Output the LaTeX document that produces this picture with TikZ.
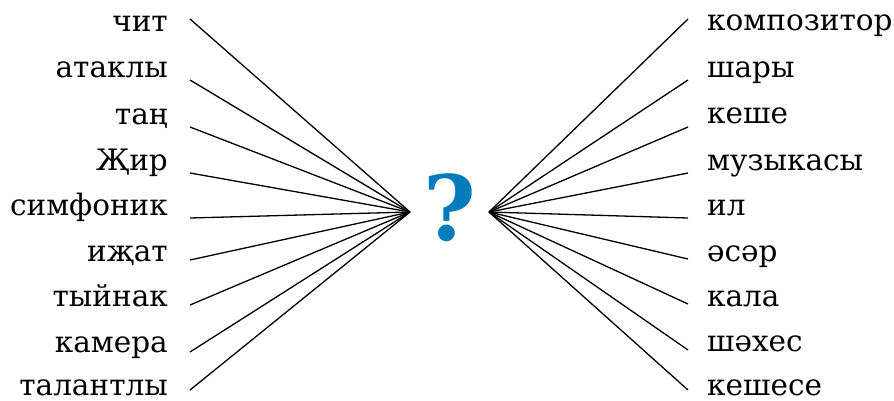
\documentclass[tikz,border=0pt]{standalone}
\usepackage{fontspec}
\setmainfont{DejaVu Serif}
\usetikzlibrary{positioning}
\usepackage{xcolor}
\definecolor{qblue}{HTML}{007CBA}

\begin{document}
\begin{tikzpicture}[
        x=1pt, y=-1pt,
        word/.style={font=\fontsize{29.5}{32}\selectfont, inner sep=0pt},
        lword/.style={word, anchor=base east},
        rword/.style={word, anchor=base west},
        spoke/.style={line width=1.3pt, draw=black},
        quest/.style={font=\fontsize{90}{96}\selectfont\bfseries, text=qblue,
          inner sep=0pt, anchor=base},
      ]
      \useasboundingbox (0,0) rectangle (894,400);

      % === Left words ===
      \node[lword] (lw1) at (168,31) {чит};
      \node[lword] (lw2) at (168,77) {атаклы};
      \node[lword] (lw3) at (168,124) {таң};
      \node[lword] (lw4) at (168,170) {Җир};
      \node[lword] (lw5) at (168,215) {симфоник};
      \node[lword] (lw6) at (168,261) {иҗат};
      \node[lword] (lw7) at (168,306) {тыйнак};
      \node[lword] (lw8) at (168,352) {камера};
      \node[lword] (lw9) at (168,395) {талантлы};

      % === Right words ===
      \node[rword] (rw1) at (707,30) {композитор};
      \node[rword] (rw2) at (707,77) {шары};
      \node[rword] (rw3) at (707,123) {кеше};
      \node[rword] (rw4) at (707,170) {музыкасы};
      \node[rword] (rw5) at (707,215) {ил};
      \node[rword] (rw6) at (707,261) {әсәр};
      \node[rword] (rw7) at (707,306) {кала};
      \node[rword] (rw8) at (707,351) {шәхес};
      \node[rword] (rw9) at (707,395) {кешесе};

      % === Centre ===
      \node[quest] (qmark) at (450,240) {?};
      \coordinate (hubL) at (410,212);
      \coordinate (hubR) at (489,212);

      % Spoke ends
      \coordinate (le1) at (190,19);
      \coordinate (le2) at (190,80);
      \coordinate (le3) at (190,127);
      \coordinate (le4) at (190,173);
      \coordinate (le5) at (190,218);
      \coordinate (le6) at (190,260);
      \coordinate (le7) at (190,305);
      \coordinate (le8) at (190,352);
      \coordinate (le9) at (190,390);

      \coordinate (re1) at (688,19);
      \coordinate (re2) at (688,80);
      \coordinate (re3) at (688,127);
      \coordinate (re4) at (688,173);
      \coordinate (re5) at (688,218);
      \coordinate (re6) at (688,259);
      \coordinate (re7) at (688,304);
      \coordinate (re8) at (688,350);
      \coordinate (re9) at (688,390);

      \draw[spoke] (le1) -- (hubL);
      \draw[spoke] (le2) -- (hubL);
      \draw[spoke] (le3) -- (hubL);
      \draw[spoke] (le4) -- (hubL);
      \draw[spoke] (le5) -- (hubL);
      \draw[spoke] (le6) -- (hubL);
      \draw[spoke] (le7) -- (hubL);
      \draw[spoke] (le8) -- (hubL);
      \draw[spoke] (le9) -- (hubL);

      \draw[spoke] (hubR) -- (re1);
      \draw[spoke] (hubR) -- (re2);
      \draw[spoke] (hubR) -- (re3);
      \draw[spoke] (hubR) -- (re4);
      \draw[spoke] (hubR) -- (re5);
      \draw[spoke] (hubR) -- (re6);
      \draw[spoke] (hubR) -- (re7);
      \draw[spoke] (hubR) -- (re8);
      \draw[spoke] (hubR) -- (re9);

      \end{tikzpicture}
\end{document}
